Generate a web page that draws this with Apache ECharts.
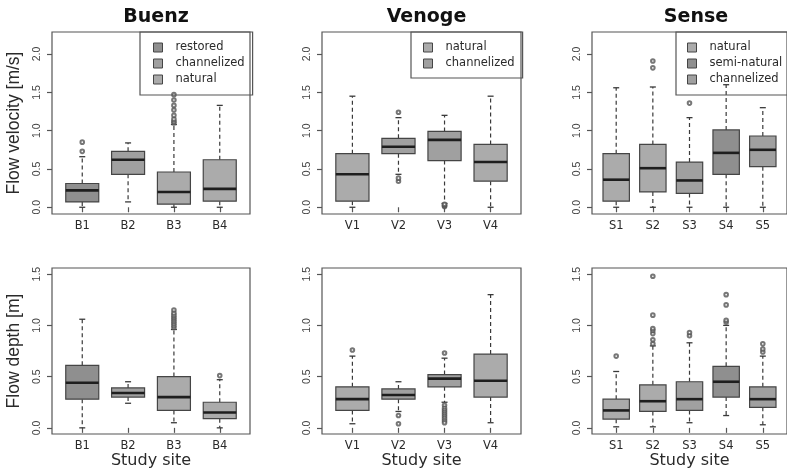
<!DOCTYPE html>
<html><head><meta charset="utf-8">
<script src="https://cdn.jsdelivr.net/npm/echarts@6/dist/echarts.min.js"></script>
<style>html,body{margin:0;padding:0;background:#fff}#c{width:787px;height:471px}</style>
</head><body><div id="c"></div>
<script>
// ---------- data ----------
const panelTitles = ['Buenz', 'Venoge', 'Sense'];
const buenzSites = ['B1', 'B2', 'B3', 'B4'];
const venogeSites = ['V1', 'V2', 'V3', 'V4'];
const senseSites = ['S1', 'S2', 'S3', 'S4', 'S5'];
const buenzTypes = ['restored', 'channelized', 'natural', 'natural'];
const venogeTypes = ['natural', 'channelized', 'channelized', 'natural'];
const senseTypes = ['natural', 'natural', 'channelized', 'semi-natural', 'channelized'];
const buenzLegend = ['restored', 'channelized', 'natural'];
const venogeLegend = ['natural', 'channelized'];
const senseLegend = ['natural', 'semi-natural', 'channelized'];

// box statistics: [min, Q1, median, Q3, max]
const buenzVelocity = [[0.0, 0.07, 0.22, 0.31, 0.66], [0.07, 0.43, 0.62, 0.73, 0.84], [0.0, 0.04, 0.20, 0.46, 1.08], [0.0, 0.08, 0.24, 0.62, 1.33]];
const venogeVelocity = [[0.0, 0.08, 0.43, 0.70, 1.45], [0.43, 0.70, 0.79, 0.90, 1.17], [0.05, 0.61, 0.88, 0.99, 1.20], [0.0, 0.34, 0.59, 0.82, 1.45]];
const senseVelocity = [[0.0, 0.08, 0.36, 0.70, 1.56], [0.0, 0.20, 0.51, 0.82, 1.57], [0.0, 0.18, 0.35, 0.59, 1.17], [0.0, 0.43, 0.71, 1.01, 1.60], [0.0, 0.53, 0.75, 0.93, 1.30]];
const buenzDepth = [[0.0, 0.28, 0.44, 0.61, 1.06], [0.24, 0.30, 0.34, 0.39, 0.45], [0.05, 0.17, 0.30, 0.50, 0.96], [0.0, 0.09, 0.15, 0.25, 0.47]];
const venogeDepth = [[0.04, 0.17, 0.28, 0.40, 0.70], [0.16, 0.28, 0.32, 0.38, 0.45], [0.25, 0.40, 0.48, 0.52, 0.68], [0.05, 0.30, 0.46, 0.72, 1.30]];
const senseDepth = [[0.01, 0.085, 0.17, 0.28, 0.55], [0.01, 0.16, 0.26, 0.42, 0.80], [0.05, 0.17, 0.28, 0.45, 0.83], [0.12, 0.30, 0.45, 0.60, 1.00], [0.03, 0.20, 0.28, 0.40, 0.70]];

// outliers: [site number, value]
const buenzVelocityOut = [[1, 0.73], [1, 0.85], [3, 1.10], [3, 1.12], [3, 1.15], [3, 1.20], [3, 1.27], [3, 1.33], [3, 1.40], [3, 1.47]];
const venogeVelocityOut = [[2, 1.24], [2, 0.34], [2, 0.38], [3, 0.01], [3, 0.02], [3, 0.03], [3, 0.04]];
const senseVelocityOut = [[2, 1.82], [2, 1.91], [3, 1.36]];
const buenzDepthOut = [[3, 0.98], [3, 1.00], [3, 1.02], [3, 1.04], [3, 1.06], [3, 1.08], [3, 1.10], [3, 1.12], [3, 1.15], [4, 0.51]];
const venogeDepthOut = [[1, 0.76], [2, 0.12], [2, 0.04], [3, 0.73], [3, 0.22], [3, 0.19], [3, 0.17], [3, 0.15], [3, 0.13], [3, 0.11], [3, 0.09], [3, 0.07], [3, 0.05]];
const senseDepthOut = [[1, 0.70], [2, 0.82], [2, 0.86], [2, 0.92], [2, 0.95], [2, 0.97], [2, 1.10], [2, 1.48], [3, 0.90], [3, 0.93], [4, 1.03], [4, 1.05], [4, 1.20], [4, 1.30], [5, 0.74], [5, 0.77], [5, 0.82]];

const velocityTicks = [0, 0.5, 1.0, 1.5, 2.0];
const depthTicks = [0, 0.5, 1.0, 1.5];
const velocityRange = [-0.088, 2.288];
const depthRange = [-0.06, 1.56];

// ---------- styles ----------
const typeColors = { 'restored': '#8f8f8f', 'channelized': '#a0a0a0', 'natural': '#ababab', 'semi-natural': '#8f8f8f' };
const frameColor = '#555';
const boxBorder = '#454545';
const textColor = '#2a2a2a';

const cols = [
  { left: 52, width: 198, sites: buenzSites, types: buenzTypes, legend: buenzLegend, vel: buenzVelocity, dep: buenzDepth, velOut: buenzVelocityOut, depOut: buenzDepthOut },
  { left: 322, width: 199, sites: venogeSites, types: venogeTypes, legend: venogeLegend, vel: venogeVelocity, dep: venogeDepth, velOut: venogeVelocityOut, depOut: venogeDepthOut },
  { left: 592, width: 198, sites: senseSites, types: senseTypes, legend: senseLegend, vel: senseVelocity, dep: senseDepth, velOut: senseVelocityOut, depOut: senseDepthOut }
];
const rows = [
  { top: 32, height: 182, key: 'vel', outKey: 'velOut', ticks: velocityTicks, range: velocityRange, name: 'Flow velocity [m/s]' },
  { top: 268, height: 166, key: 'dep', outKey: 'depOut', ticks: depthTicks, range: depthRange, name: 'Flow depth [m]' }
];

function renderBox(params, api) {
  const x = api.value(0);
  const mn = api.coord([x, api.value(1)]);
  const q1 = api.coord([x, api.value(2)]);
  const md = api.coord([x, api.value(3)]);
  const q3 = api.coord([x, api.value(4)]);
  const mx = api.coord([x, api.value(5)]);
  const cx = mn[0];
  const hw = api.size([1, 0])[0] * 0.36;
  const cap = 3;
  const color = api.visual('color');
  const wStyle = { stroke: '#3a3a3a', lineWidth: 1.2, lineDash: [4, 3] };
  const cStyle = { stroke: '#3a3a3a', lineWidth: 1.3 };
  return {
    type: 'group',
    children: [
      { type: 'line', shape: { x1: cx, y1: q3[1], x2: cx, y2: mx[1] }, style: wStyle },
      { type: 'line', shape: { x1: cx, y1: q1[1], x2: cx, y2: mn[1] }, style: wStyle },
      { type: 'line', shape: { x1: cx - cap, y1: mx[1], x2: cx + cap, y2: mx[1] }, style: cStyle },
      { type: 'line', shape: { x1: cx - cap, y1: mn[1], x2: cx + cap, y2: mn[1] }, style: cStyle },
      { type: 'rect', shape: { x: cx - hw, y: q3[1], width: 2 * hw, height: q1[1] - q3[1] }, style: { fill: color, stroke: boxBorder, lineWidth: 1.2 } },
      { type: 'line', shape: { x1: cx - hw, y1: md[1], x2: cx + hw, y2: md[1] }, style: { stroke: '#1e1e1e', lineWidth: 2.6 } }
    ]
  };
}

const grid = [], xAxis = [], yAxis = [], series = [], title = [], legend = [];
rows.forEach((r, ri) => {
  cols.forEach((c, ci) => {
    const gi = grid.length;
    grid.push({ left: c.left, top: r.top, width: c.width, height: r.height, show: true, borderColor: frameColor, borderWidth: 1.2, backgroundColor: 'transparent' });
    const n = c.sites.length;
    const xs = c.sites.map((s, i) => i + 1);
    xAxis.push({
      gridIndex: gi, type: 'value', min: 0.34, max: n + 0.66,
      axisLine: { show: false }, splitLine: { show: false },
      axisTick: { show: true, customValues: xs, length: 5, lineStyle: { color: frameColor, width: 1.2 } },
      axisLabel: { customValues: xs, formatter: v => c.sites[Math.round(v) - 1] || '', margin: 6, fontFamily: 'DejaVu Sans', fontSize: 11.5, color: textColor },
      name: ri === 1 ? 'Study site' : '', nameLocation: 'middle', nameGap: 15,
      nameTextStyle: { fontFamily: 'DejaVu Sans', fontSize: 16, color: textColor, verticalAlign: 'top' }
    });
    yAxis.push({
      gridIndex: gi, type: 'value', min: r.range[0], max: r.range[1],
      axisLine: { show: false }, splitLine: { show: false },
      axisTick: { show: true, customValues: r.ticks, length: 5, lineStyle: { color: frameColor, width: 1.2 } },
      axisLabel: { customValues: r.ticks, formatter: v => v.toFixed(1), rotate: 90, margin: 9, fontFamily: 'Liberation Sans', fontSize: 10.5, color: '#444' },
      name: ci === 0 ? r.name : '', nameLocation: 'middle', nameGap: 29,
      nameTextStyle: { fontFamily: 'Liberation Sans', fontSize: 17.5, color: textColor }
    });
    // box series grouped by type
    const typesHere = [];
    c.types.forEach(t => { if (!typesHere.includes(t)) typesHere.push(t); });
    typesHere.forEach(t => {
      const data = [];
      c[r.key].forEach((st, i) => { if (c.types[i] === t) data.push([i + 1].concat(st)); });
      series.push({
        type: 'custom', name: t, xAxisIndex: gi, yAxisIndex: gi, renderItem: renderBox,
        itemStyle: { color: typeColors[t], borderColor: boxBorder, borderWidth: 1 },
        encode: { x: 0, y: [1, 2, 3, 4, 5] }, data: data, z: 2, silent: true
      });
    });
    series.push({
      type: 'scatter', xAxisIndex: gi, yAxisIndex: gi, data: c[r.outKey],
      symbol: 'emptyCircle', symbolSize: 3.6,
      itemStyle: { color: '#555', borderColor: '#555', borderWidth: 1 }, z: 3, silent: true
    });
    if (ri === 0) {
      title.push({ text: panelTitles[ci], left: c.left + c.width / 2, top: 3, textAlign: 'center',
        textStyle: { fontFamily: 'DejaVu Sans', fontWeight: 'bold', fontSize: 19, color: '#111' } });
    }
  });
});

const legendPos = [
  { left: 140, top: 32, padding: [9, 8, 9, 13] },
  { left: 411, top: 32, padding: [9, 8, 8, 12] },
  { left: 676, top: 32, padding: [9, 8, 9, 11] }
];
cols.forEach((c, ci) => {
  legend.push({
    orient: 'vertical', left: legendPos[ci].left, top: legendPos[ci].top, padding: legendPos[ci].padding,
    itemGap: 3, itemWidth: 9, itemHeight: 9, icon: 'rect',
    borderColor: frameColor, borderWidth: 1.2, backgroundColor: 'transparent',
    selectedMode: false,
    data: c.legend.map(t => ({ name: t, itemStyle: { color: typeColors[t], borderColor: boxBorder, borderWidth: 1 } })),
    textStyle: { fontFamily: 'DejaVu Sans', fontSize: 11.5, color: textColor, lineHeight: 13, padding: [0, 0, 0, 8] }
  });
});

const chart = echarts.init(document.getElementById('c'), null, { renderer: 'canvas' });
chart.setOption({ backgroundColor: '#fff', animation: false, title, legend, grid, xAxis, yAxis, series });
</script></body></html>
